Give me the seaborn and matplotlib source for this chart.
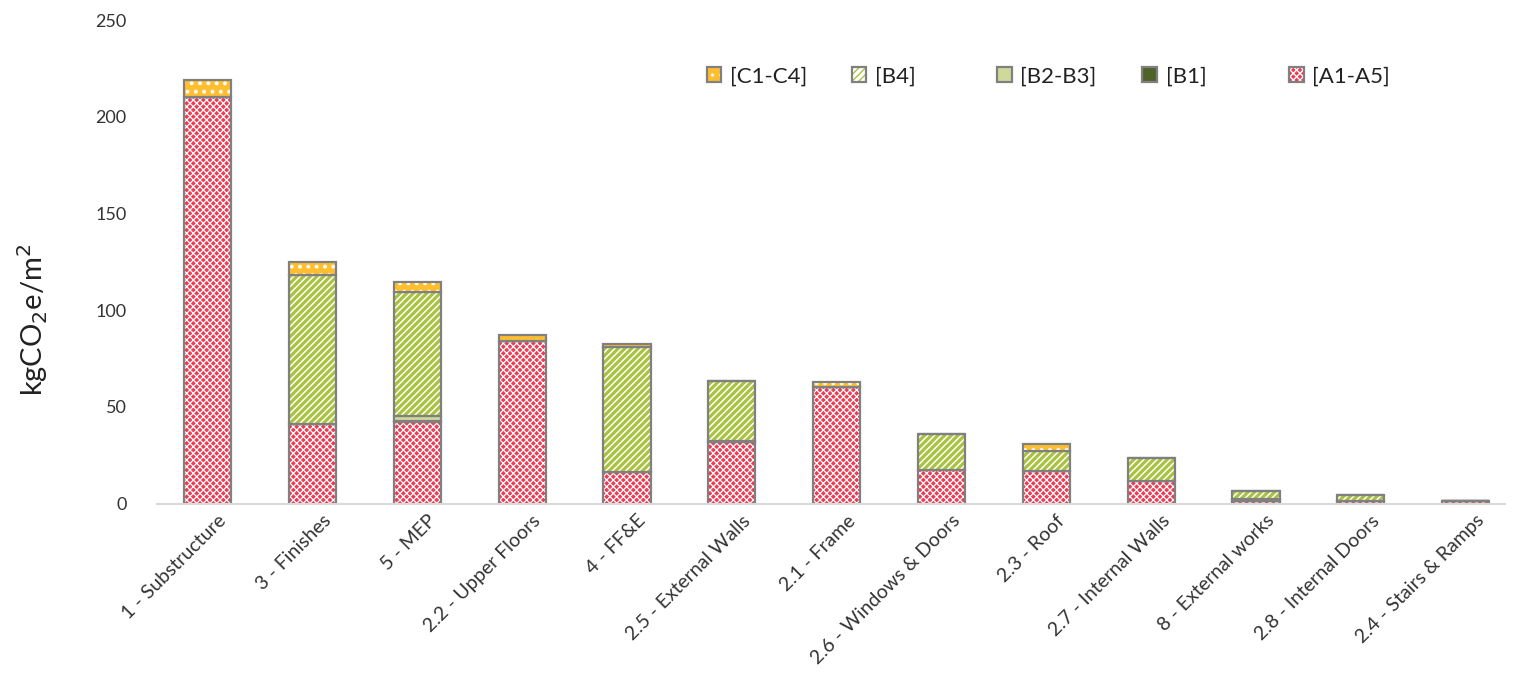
import matplotlib
matplotlib.use("Agg")
import matplotlib.pyplot as plt
import matplotlib.transforms as mtransforms
from matplotlib.patches import Patch
from matplotlib.legend_handler import HandlerTuple
import numpy as np
import pandas as pd
import seaborn as sns

# Embodied carbon by building element, split by life-cycle stage (kgCO2e/m2)
categories = [
    "1 - Substructure", "3 - Finishes", "5 - MEP", "2.2 - Upper Floors",
    "4 - FF&E", "2.5 - External Walls", "2.1 - Frame", "2.6 - Windows & Doors",
    "2.3 - Roof", "2.7 - Internal Walls", "8 - External works",
    "2.8 - Internal Doors", "2.4 - Stairs & Ramps",
]
a1_a5 = [210, 41, 42, 84, 16.5, 32, 60.5, 17.5, 17, 11.5, 1.5, 1.5, 1.2]
b1 = [0, 0, 0.5, 0, 0, 0, 0, 0, 0, 0, 0, 0, 0]
b2_b3 = [0, 0, 3, 0, 0, 0.5, 0, 0, 0, 0, 1, 0, 0]
b4 = [0, 77, 64, 0, 64.5, 31, 0, 18.5, 10, 12, 4, 3, 0]
c1_c4 = [9, 7, 5, 3, 1.5, 0, 2.5, 0, 4, 0, 0, 0, 0]

stage_labels = ["[A1-A5]", "[B1]", "[B2-B3]", "[B4]", "[C1-C4]"]

sns.set_theme(style="white")
plt.rcParams["font.family"] = ["Lato", "DejaVu Sans"]

# (face colour, hatch, hatch colour, hatch linewidth)
styles = {
    "[A1-A5]": ("#EE3A52", "xxxxx", "white", 0.9),
    "[B1]": ("#4F6228", None, None, 1.0),
    "[B2-B3]": ("#CFD99A", None, None, 1.0),
    "[B4]": ("white", "/////", "#A9C23F", 2.3),
    "[C1-C4]": ("#FFBE2E", "..", "white", 1.6),
}
edge = "#808080"

df = pd.DataFrame({
    "category": categories,
    "[A1-A5]": a1_a5,
    "[B1]": b1,
    "[B2-B3]": b2_b3,
    "[B4]": b4,
    "[C1-C4]": c1_c4,
})

fig = plt.figure(figsize=(15.13, 6.90), dpi=100)
ax = fig.add_axes([0.104, 0.270, 0.891, 0.701])

bottom = np.zeros(len(categories))
for stage in stage_labels:
    face, hatch, hcol, hlw = styles[stage]
    vals = df[stage].to_numpy(dtype=float)
    with plt.rc_context({"hatch.linewidth": hlw}):
        sns.barplot(data=df, x="category", y=stage, ax=ax, width=0.45,
                    color=face, saturation=1, bottom=bottom,
                    hatch=hatch, edgecolor=hcol if hcol else face,
                    linewidth=0, errorbar=None)
    sns.barplot(data=df, x="category", y=stage, ax=ax, width=0.45,
                color=edge, fill=False, bottom=bottom, edgecolor=edge,
                linewidth=1.6, errorbar=None)
    bottom = bottom + vals

ax.set_ylim(0, 250)
ax.set_yticks([0, 50, 100, 150, 200, 250])
ax.set_xlim(-0.48, 12.38)
ax.set_xlabel("")
ax.set_ylabel("kgCO$_2$e/m$^2$", fontsize=21, color="#222222")
ax.yaxis.set_label_coords(-0.08, 0.38)

for s in ["top", "right", "left"]:
    ax.spines[s].set_visible(False)
ax.spines["bottom"].set_color("#D9D9D9")
ax.spines["bottom"].set_linewidth(1.5)
ax.tick_params(axis="y", length=0, pad=22, labelsize=13, labelcolor="#333333")
ax.tick_params(axis="x", length=0, pad=6, labelsize=14, labelcolor="#333333")
shift = mtransforms.ScaledTranslation(10 / 100, 0, fig.dpi_scale_trans)
for lbl in ax.get_xticklabels():
    lbl.set_rotation(45)
    lbl.set_ha("right")
    lbl.set_rotation_mode("anchor")
    lbl.set_transform(lbl.get_transform() + shift)

# One legend entry per stage, evenly spaced across the top right
legend_order = ["[C1-C4]", "[B4]", "[B2-B3]", "[B1]", "[A1-A5]"]
x_positions = [0.467, 0.563, 0.659, 0.755, 0.852]
for stage, xp in zip(legend_order, x_positions):
    face, hatch, hcol, hlw = styles[stage]
    with plt.rc_context({"hatch.linewidth": min(hlw, 1.0)}):
        fill = Patch(facecolor=face, hatch=hatch,
                     edgecolor=hcol if hcol else face, linewidth=0)
    outline = Patch(facecolor="none", edgecolor=edge, linewidth=1.6)
    leg = fig.legend([(fill, outline)], [stage], loc="center left",
                     bbox_to_anchor=(xp, 0.889), frameon=False, fontsize=16,
                     handler_map={tuple: HandlerTuple(ndivide=1, pad=0)},
                     handlelength=0.65, handleheight=0.65, handletextpad=0.4,
                     borderaxespad=0, borderpad=0)
    for t in leg.get_texts():
        t.set_color("#222222")

fig.savefig("out.png", dpi=100)
